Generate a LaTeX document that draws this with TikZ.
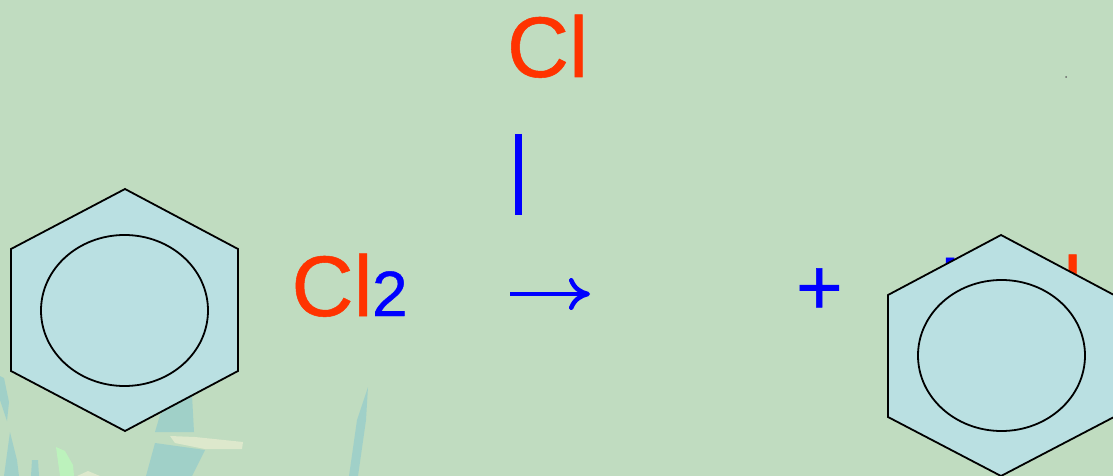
\documentclass[tikz,border=0pt]{standalone}
\usepackage{fontspec}
\setmainfont{Liberation Sans}
\newfontfamily\fatsans[FakeBold=0.6]{Liberation Sans}
\usetikzlibrary{arrows.meta}
\definecolor{bgreen}{HTML}{C0DCC0}
\definecolor{ringblue}{HTML}{BAE0E2}
\definecolor{clred}{HTML}{FF3300}
\definecolor{blade}{HTML}{A0D0C8}
\definecolor{sprout}{HTML}{BCF2BC}
\definecolor{straw}{HTML}{DDE8CC}
\tikzset{
  atom/.style={anchor=base west,inner sep=0pt,outer sep=0pt,font=\fatsans\fontsize{86}{90}\selectfont},
  redatom/.style={atom,text=clred},
  blueatom/.style={atom,text=blue},
  index/.style={anchor=base west,inner sep=0pt,outer sep=0pt,text=blue,font=\fatsans\fontsize{64}{70}\selectfont},
  sign/.style={anchor=base west,inner sep=0pt,outer sep=0pt,text=blue,font=\fatsans\fontsize{80}{86}\selectfont},
  ring/.style={draw=black,fill=ringblue,line width=1.8pt,line join=miter},
  grass/.style={fill=blade,draw=none}
}
\begin{document}
\begin{tikzpicture}[x=1pt,y=-1pt]
    \useasboundingbox (0,0) rectangle (1113,476);
    \clip (0,0) rectangle (1113,476);
    \fill[bgreen] (0,0) rectangle (1113,476);
    % grass
    \fill[grass] (0,376) -- (4,378) -- (9,402) -- (7,421) -- (0,400) -- cycle;
    \fill[grass] (10,432) -- (17,460) -- (19,476) -- (4,476) -- cycle;
    \fill[grass] (32,460) -- (38,460) -- (39,476) -- (31,476) -- cycle;
    \fill[grass] (176,395) -- (192,395) -- (194,432) -- (155,432) -- (160,415) -- cycle;
    \fill[grass] (155,443) -- (205,450) -- (192,476) -- (146,476) -- cycle;
    \fill[grass] (368,387) -- (366,420) -- (358,476) -- (349,476) -- (357,420) -- cycle;
    \fill[sprout] (56,447) -- (65,451) -- (73,465) -- (74,476) -- (60,476) -- cycle;
    \fill[straw] (77,476) -- (88,471) -- (100,476) -- cycle;
    \fill[straw] (170,436) -- (195,437) -- (243,442) -- (242,449) -- (205,449) -- (175,443) -- cycle;
    \fill[black!60] (1066,77) circle (1);
    % atoms
    \node[redatom] (cl_top) at (507,77) {Cl};
    \node[redatom] (cl_mid) at (291.5,316) {Cl};
    \node[index] (two) at (372,316) {2};
    \node[sign] (plus) at (796,314.5) {+};
    \node[blueatom] (h_right) at (939,317) {H};
    \node[redatom] (cl_right) at (1001,317) {Cl};
    % bond and arrow
    \coordinate (bond_a) at (518.5,134);
    \coordinate (bond_b) at (518.5,215);
    \coordinate (arr_a) at (510,294);
    \coordinate (arr_b) at (590,294);
    \draw[blue,line width=7pt] (bond_a) -- (bond_b);
    \draw[-{Computer Modern Rightarrow[length=21pt,width=32pt,line width=4.5pt]},blue,line width=4pt] (arr_a) -- (arr_b);
    % rings
    \draw[ring] (125,189) -- (238,249) -- (238,371) -- (125,431) -- (11,371) -- (11,249) -- cycle;
    \draw[ring] (124.5,310.5) ellipse [x radius=83.5,y radius=75.5];
    \draw[ring] (1001,235) -- (1114,295) -- (1114,417) -- (1001,476) -- (888,417) -- (888,295) -- cycle;
    \draw[ring] (1001.5,355.5) ellipse [x radius=83.5,y radius=75.5];
\end{tikzpicture}
\end{document}
